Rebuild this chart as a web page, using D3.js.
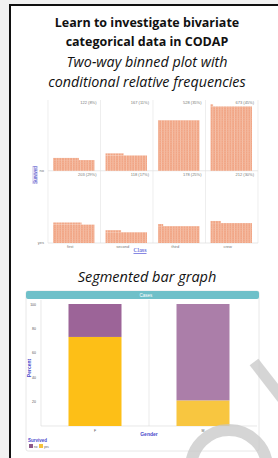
<!DOCTYPE html>
<html>
<head>
<meta charset="utf-8">
<script src="https://cdn.jsdelivr.net/npm/d3@7"></script>
<style>
  body { margin: 0; background: #f2f2f2; }
  svg { display: block; }
  .tiny { font-family: "Liberation Sans", Arial, sans-serif; font-size: 4px; fill: #777; }
</style>
</head>
<body>
<svg id="chart" width="278" height="458"></svg>
<script>
// ---- data ----
const classes = ['first', 'second', 'third', 'crew'];
const survivedCats = ['no', 'yes'];
const countsNo = [122, 167, 528, 673];
const pctNo = [8, 11, 35, 45];
const countsYes = [203, 118, 178, 212];
const pctYes = [29, 17, 25, 30];

const genders = ['F', 'M'];
const pctGenderYes = [73, 21];
const pctGenderNo = [27, 79];
const percentTicks = [20, 40, 60, 80, 100];

const svg = d3.select('#chart');
const defs = svg.append('defs');

// salmon dot grid look
const pat = defs.append('pattern')
    .attr('id', 'dots')
    .attr('patternUnits', 'userSpaceOnUse')
    .attr('width', 2.7).attr('height', 2.2)
pat.append('rect').attr('width', 2.7).attr('height', 2.2).attr('fill', '#f1a585')
pat.append('rect').attr('x', 2.1).attr('width', 0.6).attr('height', 2.2).attr('fill', '#f8d2c0')
pat.append('rect').attr('y', 1.8).attr('width', 2.7).attr('height', 0.4).attr('fill', '#f4b89d')

// page frame
svg.append('rect').attr('x', 0).attr('y', 0).attr('width', 278).attr('height', 458).attr('fill', '#f2f2f2')
svg.append('rect').attr('x', 10).attr('y', 5).attr('width', 290).attr('height', 470)
    .attr('fill', '#fff').attr('stroke', '#111').attr('stroke-width', 2)

// headings
const heading = (txt, y, opts) => svg.append('text')
    .attr('x', 147).attr('y', y)
    .attr('text-anchor', 'middle')
    .attr('font-family', '"Open Sans", "Liberation Sans", sans-serif')
    .attr('font-size', opts.size)
    .attr('font-weight', opts.bold ? 'bold' : 'normal')
    .attr('font-style', opts.italic ? 'italic' : 'normal')
    .attr('fill', '#111')
    .text(txt)

heading('Learn to investigate bivariate', 27, { size: 12.5, bold: true })
heading('categorical data in CODAP', 46, { size: 12.5, bold: true })
heading('Two-way binned plot with', 67, { size: 14.3, italic: true })
heading('conditional relative frequencies', 87, { size: 14.3, italic: true })
heading('Segmented bar graph', 282, { size: 14.5, italic: true })

// ---- two-way binned plot ----
const bp = { left: 48, right: 258, top: 100, bottom: 243 };
const xClass = d3.scaleBand().domain(classes).range([bp.left, bp.right]);
const yRow = d3.scaleBand().domain(survivedCats).range([bp.top, bp.bottom]).paddingInner(0.02);
const hCount = d3.scaleLinear().domain([0, 700]).range([0, 67]);
const perRow = 16;

const g1 = svg.append('g');

// cell grid lines
g1.selectAll('.vline').data(classes.concat(['end']))
    .join('line')
    .attr('x1', (d, i) => i < classes.length ? xClass(d) : bp.right)
    .attr('x2', (d, i) => i < classes.length ? xClass(d) : bp.right)
    .attr('y1', bp.top).attr('y2', bp.bottom)
    .attr('stroke', '#e6e6e6').attr('stroke-width', 0.7)
g1.selectAll('.hline').data(survivedCats)
    .join('line')
    .attr('x1', bp.left).attr('x2', bp.right)
    .attr('y1', d => yRow(d) + yRow.bandwidth()).attr('y2', d => yRow(d) + yRow.bandwidth())
    .attr('stroke', '#dcdcdc').attr('stroke-width', 0.7)

const cells = [];
survivedCats.forEach((s, r) => {
    const counts = r === 0 ? countsNo : countsYes;
    const pcts = r === 0 ? pctNo : pctYes;
    classes.forEach((c, i) => cells.push({ row: s, cls: c, count: counts[i], pct: pcts[i] }));
});

const barPad = 5;
const barW = xClass.bandwidth() - barPad * 2 - 1;
const rowH = hCount(perRow);

cells.forEach(d => {
    const base = yRow(d.row) + yRow.bandwidth();
    const full = Math.floor(d.count / perRow);
    const rem = d.count % perRow;
    const x0 = xClass(d.cls) + barPad;
    const fullH = hCount(full * perRow);
    g1.append('rect')
        .attr('x', x0).attr('y', base - fullH)
        .attr('width', barW).attr('height', fullH)
        .attr('fill', 'url(#dots)')
    if (rem > 0) {
        g1.append('rect')
            .attr('x', x0).attr('y', base - fullH - rowH - 0.6)
            .attr('width', barW * rem / perRow).attr('height', rowH + 0.6)
            .attr('fill', 'url(#dots)')
    }
    g1.append('text')
        .attr('class', 'tiny')
        .attr('x', xClass(d.cls) + xClass.bandwidth() - 4)
        .attr('y', yRow(d.row) + 4)
        .attr('text-anchor', 'end')
        .text(`${d.count} (${d.pct}%)`)
});

// axes labels
g1.selectAll('.xlab').data(classes)
    .join('text')
    .attr('class', 'tiny')
    .attr('x', d => xClass(d) + xClass.bandwidth() / 2 - 4)
    .attr('y', bp.bottom + 5)
    .attr('text-anchor', 'middle')
    .attr('fill', '#555')
    .text(d => d)
g1.selectAll('.ylab').data(survivedCats)
    .join('text')
    .attr('class', 'tiny')
    .attr('x', 44).attr('y', d => yRow(d) + yRow.bandwidth() + 1)
    .attr('text-anchor', 'end')
    .attr('fill', '#333')
    .text(d => d)

g1.append('text')
    .attr('x', 140).attr('y', 252)
    .attr('text-anchor', 'middle')
    .attr('font-family', '"Liberation Serif", serif')
    .attr('font-size', 6)
    .attr('fill', '#3a3ad0')
    .attr('text-decoration', 'underline')
    .text('Class')

g1.append('rect').attr('x', 32).attr('y', 166).attr('width', 6).attr('height', 18).attr('fill', '#e4e2f6')
g1.append('text')
    .attr('transform', 'translate(36.5,175) rotate(-90)')
    .attr('text-anchor', 'middle')
    .attr('font-family', '"Liberation Sans", sans-serif')
    .attr('font-size', 4.5)
    .attr('fill', '#4b4bc8')
    .text('Survived')

// ---- segmented bar graph ----
const sb = { left: 41, right: 259, top: 304, bottom: 426 };
const frame = svg.append('g');
frame.append('rect').attr('x', 26).attr('y', 291).attr('width', 233).attr('height', 160)
    .attr('rx', 2).attr('fill', '#fff').attr('stroke', '#e2e2e2').attr('stroke-width', 0.8)
frame.append('rect').attr('x', 26).attr('y', 291).attr('width', 233).attr('height', 8)
    .attr('rx', 2).attr('fill', '#6fc0c9')
frame.append('text').attr('x', 146).attr('y', 297)
    .attr('text-anchor', 'middle')
    .attr('font-family', '"Liberation Sans", sans-serif')
    .attr('font-size', 4.5).attr('fill', '#fff')
    .text('Cases')

const xG = d3.scaleBand().domain(genders).range([sb.left, sb.right - 2]);
const yP = d3.scaleLinear().domain([0, 100]).range([sb.bottom, sb.top]);

frame.append('line')
    .attr('x1', xG('M')).attr('x2', xG('M'))
    .attr('y1', sb.top - 4).attr('y2', sb.bottom)
    .attr('stroke', '#e6e6e6').attr('stroke-width', 0.8)
frame.append('line')
    .attr('x1', sb.left).attr('x2', sb.left)
    .attr('y1', sb.top - 4).attr('y2', sb.bottom)
    .attr('stroke', '#d8d8d8').attr('stroke-width', 0.6)
frame.append('line')
    .attr('x1', sb.left).attr('x2', sb.right - 2)
    .attr('y1', sb.bottom).attr('y2', sb.bottom)
    .attr('stroke', '#d8d8d8').attr('stroke-width', 0.6)

const yAxis = d3.axisLeft(yP).tickValues(percentTicks)
    .tickSize(0).tickPadding(5);
const yAxisG = frame.append('g')
    .attr('transform', `translate(${sb.left},0)`)
    .call(yAxis)
yAxisG.select('.domain').remove()
yAxisG.selectAll('text')
    .attr('font-size', 3.5).attr('fill', '#555')
    .attr('font-family', '"Liberation Sans", sans-serif')

const segW = 53;
const segs = [];
genders.forEach((g, i) => {
    segs.push({ g, key: 'yes', y0: 0, y1: pctGenderYes[i], color: i === 0 ? '#fdbf17' : '#f8c640' });
    segs.push({ g, key: 'no', y0: pctGenderYes[i], y1: pctGenderYes[i] + pctGenderNo[i], color: i === 0 ? '#9c6498' : '#ab7ea9' });
});
frame.selectAll('.seg').data(segs)
    .join('rect')
    .attr('x', d => xG(d.g) + (xG.bandwidth() - segW) / 2)
    .attr('y', d => yP(d.y1))
    .attr('width', segW)
    .attr('height', d => yP(d.y0) - yP(d.y1))
    .attr('fill', d => d.color)

frame.selectAll('.glab').data(genders)
    .join('text')
    .attr('x', d => xG(d) + xG.bandwidth() / 2)
    .attr('y', 432)
    .attr('text-anchor', 'middle')
    .attr('font-family', '"Liberation Sans", sans-serif')
    .attr('font-size', 3.5).attr('fill', '#555')
    .text(d => d)

frame.append('text').attr('x', 149).attr('y', 436)
    .attr('text-anchor', 'middle')
    .attr('font-family', '"Liberation Sans", sans-serif')
    .attr('font-size', 5).attr('font-weight', 'bold').attr('fill', '#4a4acb')
    .text('Gender')
frame.append('text')
    .attr('transform', 'translate(31,368) rotate(-90)')
    .attr('text-anchor', 'middle')
    .attr('font-family', '"Liberation Sans", sans-serif')
    .attr('font-size', 5).attr('font-weight', 'bold').attr('fill', '#4a4acb')
    .text('Percent')

// legend
frame.append('text').attr('x', 28).attr('y', 442)
    .attr('font-family', '"Liberation Sans", sans-serif')
    .attr('font-size', 4.5).attr('font-weight', 'bold').attr('fill', '#4a4acb')
    .text('Survived')
const legend = frame.selectAll('.leg').data([
    { label: 'no', color: '#8e5a8a' },
    { label: 'yes', color: '#f5c33a' }
]).join('g').attr('transform', (d, i) => `translate(${29 + i * 10},444)`)
legend.append('rect').attr('width', 4).attr('height', 4).attr('fill', d => d.color)
legend.append('text').attr('x', 5).attr('y', 3.5)
    .attr('font-family', '"Liberation Sans", sans-serif')
    .attr('font-size', 3).attr('fill', '#555')
    .text(d => d.label)

// grey watermark strokes over the lower right
const wm = svg.append('g').attr('opacity', 0.75);
wm.append('circle').attr('cx', 229).attr('cy', 468).attr('r', 38)
    .attr('fill', 'none').attr('stroke', '#c8c8c8').attr('stroke-width', 12)
wm.append('line').attr('x1', 254).attr('y1', 362).attr('x2', 285).attr('y2', 402)
    .attr('stroke', '#c8c8c8').attr('stroke-width', 11)
</script>
</body>
</html>
